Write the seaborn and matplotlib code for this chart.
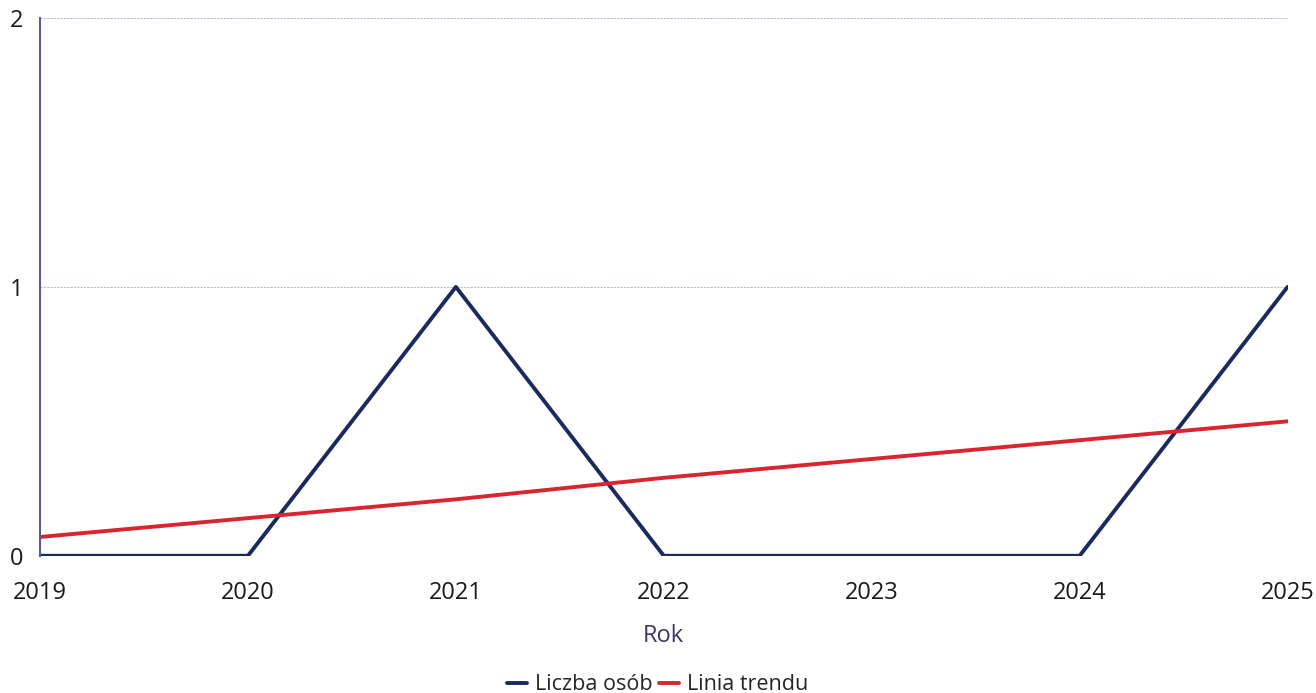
import matplotlib
matplotlib.use('Agg')
import matplotlib.pyplot as plt
import seaborn as sns
import pandas as pd

# Data
years = [2019, 2020, 2021, 2022, 2023, 2024, 2025]
liczba_osob = [0, 0, 1, 0, 0, 0, 1]
linia_trendu = [0.07, 0.14, 0.21, 0.29, 0.36, 0.43, 0.50]

df = pd.DataFrame({'Rok': years, 'Liczba osób': liczba_osob, 'Linia trendu': linia_trendu})

sns.set_style('white')
plt.rcParams['font.family'] = ['Open Sans', 'DejaVu Sans']

fig = plt.figure(figsize=(13.16, 6.93), dpi=100)
ax = fig.add_axes([0.0304, 0.198, 0.948, 0.776])

sns.lineplot(data=df, x='Rok', y='Liczba osób', ax=ax, color='#1b2a5e', linewidth=2.8,
             label='Liczba osób', legend=False)
sns.lineplot(data=df, x='Rok', y='Linia trendu', ax=ax, color='#d8252f', linewidth=2.8,
             label='Linia trendu', legend=False)

ax.set_xlim(2019, 2025)
ax.set_ylim(0, 2)
ax.set_xticks(years)
ax.set_xticklabels([str(y) for y in years])
ax.set_yticks([0, 1, 2])
ax.grid(axis='y', color='#b4bdd6', linewidth=0.8, linestyle=(0, (2, 1)))
ax.set_axisbelow(True)

for s in ['top', 'right', 'bottom']:
    ax.spines[s].set_visible(False)
ax.spines['left'].set_color('#5a5a9a')
ax.spines['left'].set_linewidth(1.5)

ax.tick_params(axis='both', length=0, labelsize=17, colors='#1a1a1a')
ax.tick_params(axis='x', pad=18)
ax.tick_params(axis='y', pad=12)
ax.set_xlabel('Rok', fontsize=17, color='#3d3768', labelpad=14)
ax.set_ylabel('')

handles, labels = ax.get_legend_handles_labels()
fig.legend(handles, labels, loc='center', bbox_to_anchor=(0.5, 0.012), ncol=2, frameon=False,
           fontsize=15.5, handlelength=0.9, handletextpad=0.4, columnspacing=0.3)

fig.savefig('out.png', dpi=100)
